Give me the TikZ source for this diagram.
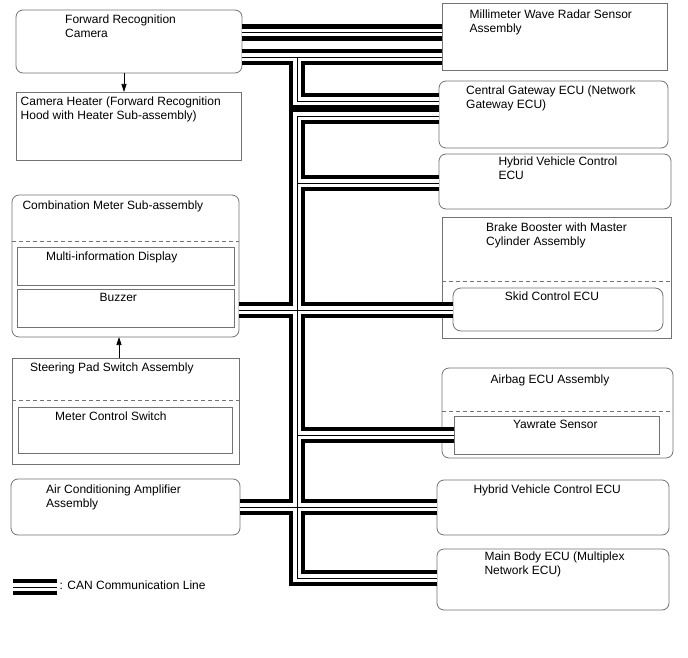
\documentclass[tikz,border=0pt]{standalone}
\usepackage{fontspec}
\setmainfont{Liberation Sans}
\usetikzlibrary{arrows.meta}

\begin{document}
\begin{tikzpicture}[
  x=1pt, y=-1pt,
  box/.style={draw=black!55, line width=0.8pt, inner sep=0pt, outer sep=0pt, anchor=north west},
  rbox/.style={box, rounded corners=7pt},
  lbl/.style={inner sep=0pt, align=left, font=\fontsize{12}{14}\selectfont},
  sep/.style={draw=black!55, line width=0.7pt, dash pattern=on 4pt off 3pt},
  arr/.style={-{Triangle[length=8pt,width=5pt]}, line width=0.7pt}
]
  \path[use as bounding box, fill=white] (0,0) rectangle (688,658);

  % Linke Spalte
  \node[rbox, minimum width=226pt, minimum height=63pt] (cam) at (16,10) {};
  \node[box, minimum width=225pt, minimum height=68pt] (heater) at (16,92) {};
  \node[rbox, minimum width=227pt, minimum height=142pt] (meter) at (12,195) {};
  \node[box, minimum width=217pt, minimum height=38pt] (mid) at (17,247) {};
  \node[box, minimum width=217pt, minimum height=38pt] (buzz) at (17,289) {};
  \node[box, minimum width=227pt, minimum height=106pt] (steer) at (12,358) {};
  \node[box, minimum width=214pt, minimum height=46pt] (mcs) at (18,407) {};
  \node[rbox, minimum width=229pt, minimum height=56pt] (ac) at (11,479) {};
  \draw[sep] (meter.west |- 0,241) -- (meter.east |- 0,241);
  \draw[sep] (steer.west |- 0,400) -- (steer.east |- 0,400);

  % Rechte Spalte
  \node[box, minimum width=225pt, minimum height=67pt] (radar) at (442,3) {};
  \node[rbox, minimum width=229pt, minimum height=67pt] (gw) at (439,81) {};
  \node[rbox, minimum width=232pt, minimum height=55pt] (hv) at (439,154) {};
  \node[box, minimum width=229pt, minimum height=121pt] (brake) at (442,217) {};
  \node[rbox, rounded corners=8pt, minimum width=210pt, minimum height=43pt] (skid) at (453,288) {};
  \node[rbox, minimum width=231pt, minimum height=90pt] (airbag) at (442,368) {};
  \node[box, minimum width=205pt, minimum height=38pt] (yaw) at (454,416) {};
  \node[rbox, minimum width=232pt, minimum height=55pt] (hvb) at (437,480) {};
  \node[rbox, minimum width=232pt, minimum height=61pt] (body) at (437,549) {};
  \draw[sep] (brake.west |- 0,281) -- (brake.east |- 0,281);
  \draw[sep] (airbag.west |- 0,411) -- (airbag.east |- 0,411);

  % Beschriftungen
  \node[lbl, anchor=north west] (camT) at (65,14.8) {Forward Recognition\\Camera};
  \node[lbl, anchor=north west] (heaterT) at (20.5,96.3) {Camera Heater (Forward Recognition\\Hood with Heater Sub-assembly)};
  \node[lbl, anchor=north west] (meterT) at (22.3,200.6) {Combination Meter Sub-assembly};
  \node[lbl, anchor=north] (midT) at (111.7,251.3) {Multi-information Display};
  \node[lbl, anchor=north] (buzzT) at (118.3,293) {Buzzer};
  \node[lbl, anchor=north west] (steerT) at (30,362.3) {Steering Pad Switch Assembly};
  \node[lbl, anchor=north] (mcsT) at (110.8,411.3) {Meter Control Switch};
  \node[lbl, anchor=north west] (acT) at (46,484.6) {Air Conditioning Amplifier\\Assembly};
  \node[lbl, anchor=north west] (radarT) at (469.5,9.6) {Millimeter Wave Radar Sensor\\Assembly};
  \node[lbl, anchor=north west] (gwT) at (466,85.6) {Central Gateway ECU (Network\\Gateway ECU)};
  \node[lbl, anchor=north west] (hvT) at (498.3,157) {Hybrid Vehicle Control\\ECU};
  \node[lbl, anchor=north west] (brakeT) at (486,222.3) {Brake Booster with Master\\Cylinder Assembly};
  \node[lbl, anchor=north] (skidT) at (552,292) {Skid Control ECU};
  \node[lbl, anchor=north] (airbagT) at (550,374.6) {Airbag ECU Assembly};
  \node[lbl, anchor=north] (yawT) at (555.3,420.3) {Yawrate Sensor};
  \node[lbl, anchor=north west] (hvbT) at (473.3,484.6) {Hybrid Vehicle Control ECU};
  \node[lbl, anchor=north west] (bodyT) at (484.3,551.3) {Main Body ECU (Multiplex\\Network ECU)};
  \node[lbl, anchor=base west] (legT) at (59.5,589.3) {: CAN Communication Line};

  % Pfeile
  \draw[arr] (cam.south -| 124,0) -- (heater.north -| 124,0);
  \draw[arr] (steer.north -| 119,0) -- (meter.south -| 119,0);

  % CAN-Bus
  \coordinate (p0) at (297,32.5);
  \coordinate (j1) at (297,57);
  \coordinate (j2) at (297,101);
  \coordinate (j3) at (297,116);
  \coordinate (j4) at (297,183);
  \coordinate (j5) at (297,310);
  \coordinate (j6) at (297,435);
  \coordinate (j7) at (297,507);
  \coordinate (j8) at (297,578);
  \coordinate (leg1) at (13,587);
  \coordinate (leg2) at (56.5,587);
  \foreach \lw/\lc in {16.5pt/black, 7.5pt/white, 0.9pt/black}
    \draw[line width=\lw, draw=\lc]
      (cam.east |- p0) -- (radar.west |- p0)
      (cam.east |- j1) -- (radar.west |- j1)
      (j1) -- (j2) -- (gw.west |- j2)
      (gw.west |- j3) -- (j3) -- (j8) -- (body.west |- j8)
      (j4) -- (hv.west |- j4)
      (meter.east |- j5) -- (skid.west |- j5)
      (j6) -- (yaw.west |- j6)
      (ac.east |- j7) -- (hvb.west |- j7)
      (leg1) -- (leg2);
\end{tikzpicture}
\end{document}
